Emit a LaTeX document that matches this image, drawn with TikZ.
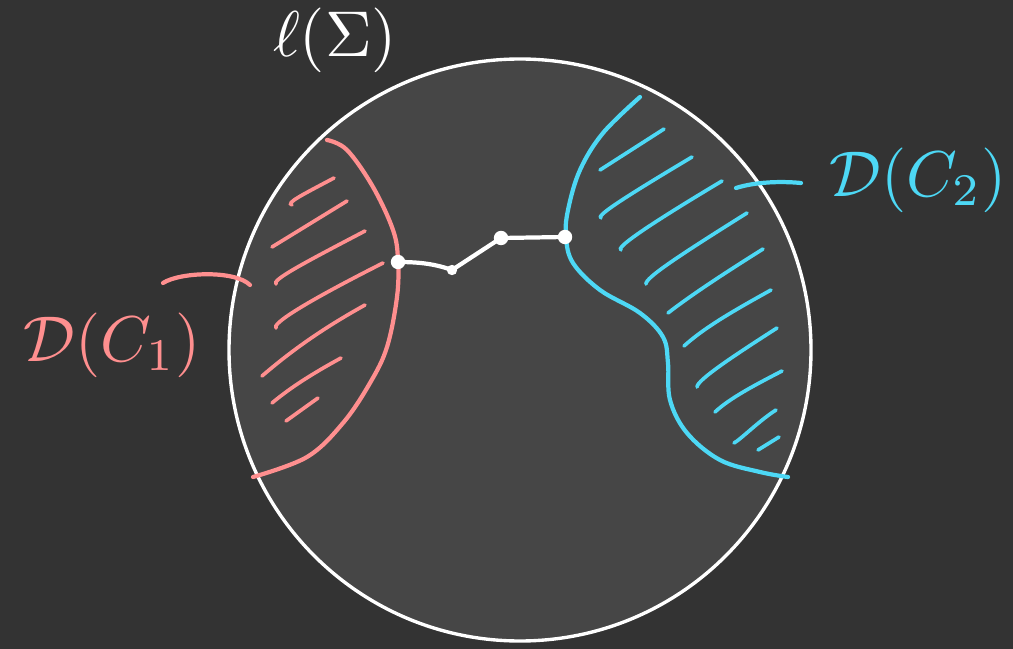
\documentclass[tikz,border=0pt]{standalone}
\usepackage{amsmath}
\definecolor{bg}{HTML}{333333}
\definecolor{disk}{HTML}{464646}
\definecolor{pinkc}{HTML}{FF8F8F}
\definecolor{cyanc}{HTML}{4DD8F5}
\tikzset{
  pinkline/.style={draw=pinkc, line width=3pt, line cap=round, line join=round},
  cyanline/.style={draw=cyanc, line width=3pt, line cap=round, line join=round},
  hatchp/.style={draw=pinkc, line width=2.6pt, line cap=round},
  hatchc/.style={draw=cyanc, line width=2.6pt, line cap=round},
  pathdot/.style={circle, fill=white, inner sep=0pt, minimum size=0.36cm},
  pathline/.style={draw=white, line width=3pt, line cap=round},
  lbl/.style={inner sep=0pt}
}
\begin{document}
\begin{tikzpicture}[x=0.025cm,y=-0.025cm]
\fill[bg] (0,0) rectangle (1013,649);
\useasboundingbox (0,0) rectangle (1013,649);
% disk
\filldraw[fill=disk, draw=white, line width=2.4pt] (520,350) circle[radius=291];
% pink boundary
\draw[pinkline] plot[smooth, tension=0.6] coordinates {(327,140) (347,150) (373,187) (393,230) (398,260) (397,297) (387,347) (370,383) (343,423) (307,457) (253,477)};
% pink hatching
\draw[hatchp] (292,205) .. controls (286,203) and (300,196) .. (334,178);
\draw[hatchp] (272,247) -- (347,201);
\draw[hatchp] (276,284) .. controls (272,280) and (300,265) .. (365,231);
\draw[hatchp] (276,328) .. controls (272,324) and (300,305) .. (383,263);
\draw[hatchp] (262,376) .. controls (290,352) and (320,330) .. (365,305);
\draw[hatchp] (272,403) .. controls (290,388) and (310,375) .. (341,358);
\draw[hatchp] (286,421) -- (318,398);
% pink label connector
\draw[pinkline] (163,283) .. controls (180,272) and (235,270) .. (250,285);
% cyan boundary
\draw[cyanline] plot[smooth, tension=0.6] coordinates {(640,97) (603,133) (580,170) (568,210) (566,237) (573,263) (600,290) (640,313) (663,337) (668,363) (670,400) (687,433) (720,460) (760,472) (788,477)};
% cyan hatching
\draw[hatchc] (600,170) -- (664,129);
\draw[hatchc] (601,218) .. controls (596,216) and (620,200) .. (692,157);
\draw[hatchc] (621,250) .. controls (616,248) and (640,230) .. (722,181);
\draw[hatchc] (646,284) .. controls (645,278) and (680,255) .. (747,213);
\draw[hatchc] (668,313) .. controls (690,296) and (720,276) .. (763,249);
\draw[hatchc] (684,346) .. controls (705,327) and (735,310) .. (771,290);
\draw[hatchc] (697,387) .. controls (697,380) and (735,355) .. (777,328);
\draw[hatchc] (715,412) .. controls (730,398) and (755,385) .. (782,371);
\draw[hatchc] (734,443) .. controls (740,440) and (760,420) .. (776,410);
\draw[hatchc] (758,450) -- (779,437);
% cyan label connector
\draw[cyanline] (736,188) .. controls (755,182) and (780,181) .. (801,183);
% path across
\node[pathdot] (p1) at (398,262) {};
\node[pathdot, minimum size=0.26cm] (p2) at (452,270) {};
\node[pathdot] (p3) at (501,238) {};
\node[pathdot] (p4) at (565,237) {};
\draw[pathline] (p1.center) .. controls (420,262) and (435,264) .. (p2.center);
\draw[pathline] (p2.center) -- (p3.center);
\draw[pathline] (p3.center) -- (p4.center);
% labels
\node[lbl, text=white] (ell) at (335,40) {\scalebox{4.6}{$\ell(\Sigma)$}};
\node[lbl, text=pinkc] (d1) at (112,345) {\scalebox{4.6}{$\mathcal{D}(C_1)$}};
\node[lbl, text=cyanc] (d2) at (918,180) {\scalebox{4.6}{$\mathcal{D}(C_2)$}};
\end{tikzpicture}
\end{document}
